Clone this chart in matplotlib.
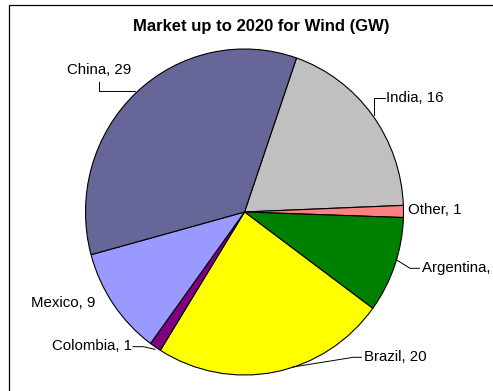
import matplotlib
matplotlib.use("Agg")
import matplotlib.pyplot as plt
from matplotlib.patches import Rectangle

plt.rcParams["font.family"] = ["Liberation Sans", "DejaVu Sans"]

# Wind market up to 2020, in GW, listed clockwise from the top
countries = ["India", "Other", "Argentina", "Brazil", "Colombia", "Mexico", "China"]
capacity_gw = [16, 1, 8, 20, 1, 9, 29]
slice_colors = ["#C0C0C0", "#FF8080", "#008000", "#FFFF00", "#800080", "#9999FF", "#666699"]

W, H = 493, 391
SY = 163 / 159  # pie is drawn slightly taller than wide


def to_data(x, y):
    """Pixel position (origin top-left) -> data coordinates."""
    return x, (H - y) / SY


fig = plt.figure(figsize=(W / 100, H / 100), dpi=100)
ax = fig.add_axes([0, 0, 1, 1])

cx, cy = to_data(244.5, 212)
ax.pie(capacity_gw, colors=slice_colors, startangle=90 - 19.1, counterclock=False,
       center=(cx, cy), radius=159,
       wedgeprops=dict(edgecolor="black", linewidth=0.8))

ax.set_xlim(0, W)
ax.set_ylim(0, H / SY)
ax.set_aspect("auto")
ax.axis("off")

# chart frame (runs off the right and bottom edges)
fig.patches.append(Rectangle((9.3 / W, 0 - 0.05), 1.2, (H - 4.7) / H + 0.05,
                             transform=fig.transFigure, fill=False,
                             edgecolor="black", linewidth=0.9))

fig.text(261.5 / W, 1 - 26 / H, "Market up to 2020 for Wind (GW)", ha="center",
         va="center", fontsize=12, fontweight="bold")

labels = [f"{c}, {v}" for c, v in zip(countries, capacity_gw)]
label_pos = {
    "India": ((386.5, 97.7), "left"),
    "Other": ((408, 210), "left"),
    "Argentina": ((421.5, 267.7), "left"),
    "Brazil": ((364, 357), "left"),
    "Colombia": ((131.5, 346.5), "right"),
    "Mexico": ((63.3, 303.3), "center"),
    "China": ((99, 70), "center"),
}
for country, text in zip(countries, labels):
    (px, py), ha = label_pos[country]
    x, y = to_data(px, py)
    ax.text(x, y, text, ha=ha, va="center", fontsize=10.8, clip_on=False)

leaders = [
    [(99, 82.5), (99, 90.7), (135, 90.7)],
    [(385, 97.7), (374, 97.7), (374, 115)],
    [(396.7, 260), (410, 268.3), (419.5, 268.3)],
    [(361.5, 357.3), (353.3, 357.3), (293, 367)],
    [(133, 346.7), (143.3, 346.7), (155, 349.3)],
]
for pts in leaders:
    xs, ys = zip(*[to_data(px, py) for px, py in pts])
    ax.plot(xs, ys, color="black", linewidth=0.7)

fig.savefig("out.png", dpi=100)
